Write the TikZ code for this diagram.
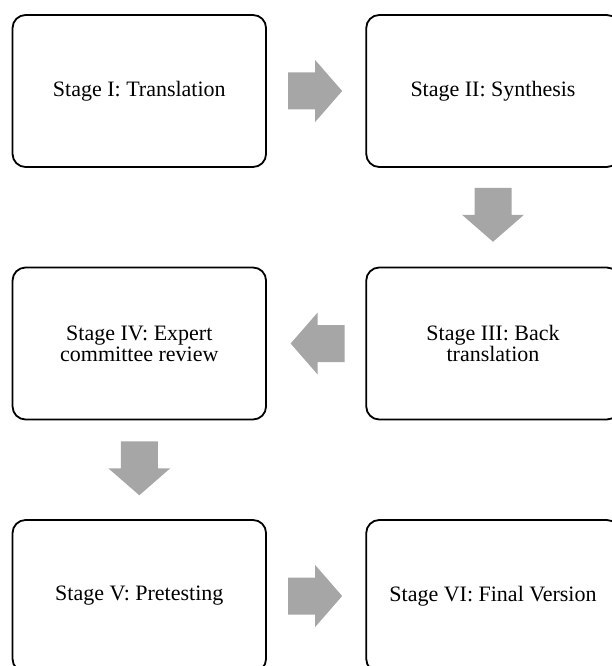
\documentclass[tikz,border=0pt]{standalone}
\usepackage{fontspec}
\setmainfont{Liberation Serif}
\usetikzlibrary{calc}
\definecolor{arrowgray}{RGB}{166,166,166}
\tikzset{
  stagebox/.style={draw=black, line width=1.8pt, rounded corners=13pt, fill=white,
    minimum width=253.5pt, minimum height=152pt, inner sep=0pt, align=center,
    font=\fontsize{22}{21}\selectfont},
  blockarrow/.style={fill=arrowgray, draw=none}
}
\newcommand\blockarrowshape{(-27,-18.5) -- (0,-18.5) -- (0,-31) -- (27,0) -- (0,31) -- (0,18.5) -- (-27,18.5) -- cycle}
\begin{document}
\begin{tikzpicture}[x=1pt,y=-1pt]
\useasboundingbox (0,0) rectangle (611,666);
\node[stagebox] (s1) at (139.3,91) {Stage I: Translation};
\node[stagebox] (s2) at (493,91) {Stage II: Synthesis};
\node[stagebox] (s3) at (493,343.5) {Stage III: Back\\translation};
\node[stagebox] (s4) at (139.3,343.5) {Stage IV: Expert\\committee review};
\node[stagebox] (s5) at (139.3,596) {Stage V: Pretesting};
\node[stagebox] (s6) at (493,596) {Stage VI: Final Version};
\coordinate (a12) at ($(s1.east)!0.5!(s2.west)+(-1,0)$);
\coordinate (a23) at ($(s2.south)!0.5!(s3.north)+(0,-2.5)$);
\coordinate (a34) at ($(s3.west)!0.5!(s4.east)+(1.5,0)$);
\coordinate (a45) at ($(s4.south)!0.5!(s5.north)+(0,-1.5)$);
\coordinate (a56) at ($(s5.east)!0.5!(s6.west)+(-1,0)$);
\fill[blockarrow, shift={(a12)}] \blockarrowshape;
\fill[blockarrow, shift={(a23)}, rotate=-90] \blockarrowshape;
\fill[blockarrow, shift={(a34)}, rotate=180] \blockarrowshape;
\fill[blockarrow, shift={(a45)}, rotate=-90] \blockarrowshape;
\fill[blockarrow, shift={(a56)}] \blockarrowshape;
\end{tikzpicture}
\end{document}
